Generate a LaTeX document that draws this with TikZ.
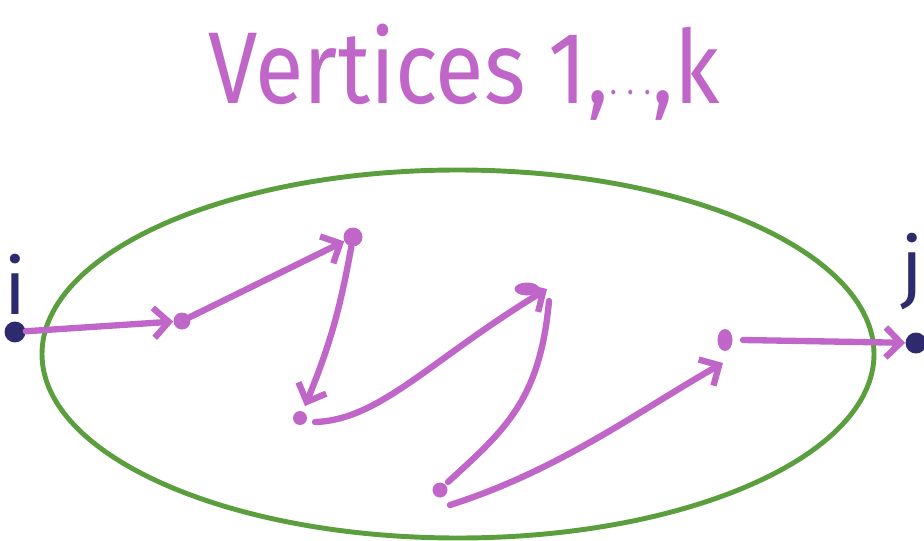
\documentclass[tikz,border=0pt]{standalone}
\usepackage{fontspec}
\setmainfont{Fira Sans}
\usetikzlibrary{arrows.meta,positioning,calc,shapes.geometric}
\definecolor{orchid}{HTML}{C066C8}
\definecolor{navy}{HTML}{2E2A6E}
\definecolor{grass}{HTML}{5B9E3D}
\tikzset{
  walkdot/.style={
    circle,
    fill=orchid,
    inner sep=0pt,
    minimum size=0.34cm
  },
  enddot/.style={
    circle,
    fill=navy,
    inner sep=0pt,
    minimum size=0.42cm
  },
  endlabel/.style={
    text=navy,
    font=\fontsize{44}{48}\selectfont
  },
  walkarrow/.style={-{Straight Barb[length=3mm,width=6mm]},line width=3.6pt,draw=orchid,line cap=round},
  walkline/.style={line width=3.6pt,draw=orchid,line cap=round}
}

\begin{document}
\begin{tikzpicture}[x=0.02cm,y=-0.02cm]
\useasboundingbox (0,0) rectangle (924,541);
% title
\node[text=orchid,font=\fontsize{58}{62}\selectfont] (title) at (464,72) {\scalebox{0.87}[1]{Vertices 1,$\cdots$,k}};
% the set of vertices
\draw[grass,line width=2.8pt] (458,354) ellipse [x radius=416,y radius=184];
% end points
\node[enddot] (i) at (15,332) {};
\node[enddot] (j) at (916,343) {};
\node[endlabel] (ilab) at (15,284) {i};
\node[endlabel] (jlab) at (912,272) {j};
% walk through the set
\node[walkdot] (v1) at (182,321) {};
\node[walkdot,minimum size=0.38cm] (v2) at (353,237) {};
\node[walkdot,minimum size=0.28cm] (v3) at (300,418) {};
\node[walkdot,ellipse,minimum width=0.5cm,minimum height=0.26cm] (v4) at (527,289) {};
\node[walkdot,minimum size=0.3cm] (v5) at (440,490) {};
\node[walkdot,ellipse,minimum width=0.3cm,minimum height=0.44cm] (v6) at (725,340) {};
\draw[walkarrow] (i) -- (v1);
\draw[walkarrow] (v1) -- (v2);
\draw[walkarrow] (v2) to[bend left=6] ($(v3)+(5,-12)$);
\draw[walkarrow] ($(v3)+(15,4)$) .. controls (380,420) and (430,360) .. ($(v4)+(20,0)$);
\draw[walkline] ($(v4)+(22,12)$) .. controls (540,400) and (505,430) .. ($(v5)+(8,-8)$);
\draw[walkarrow] ($(v5)+(10,15)$) .. controls (560,470) and (640,410) .. ($(v6)+(-2,23)$);
\draw[walkarrow] ($(v6)+(18,0)$) -- (j);
\end{tikzpicture}
\end{document}
